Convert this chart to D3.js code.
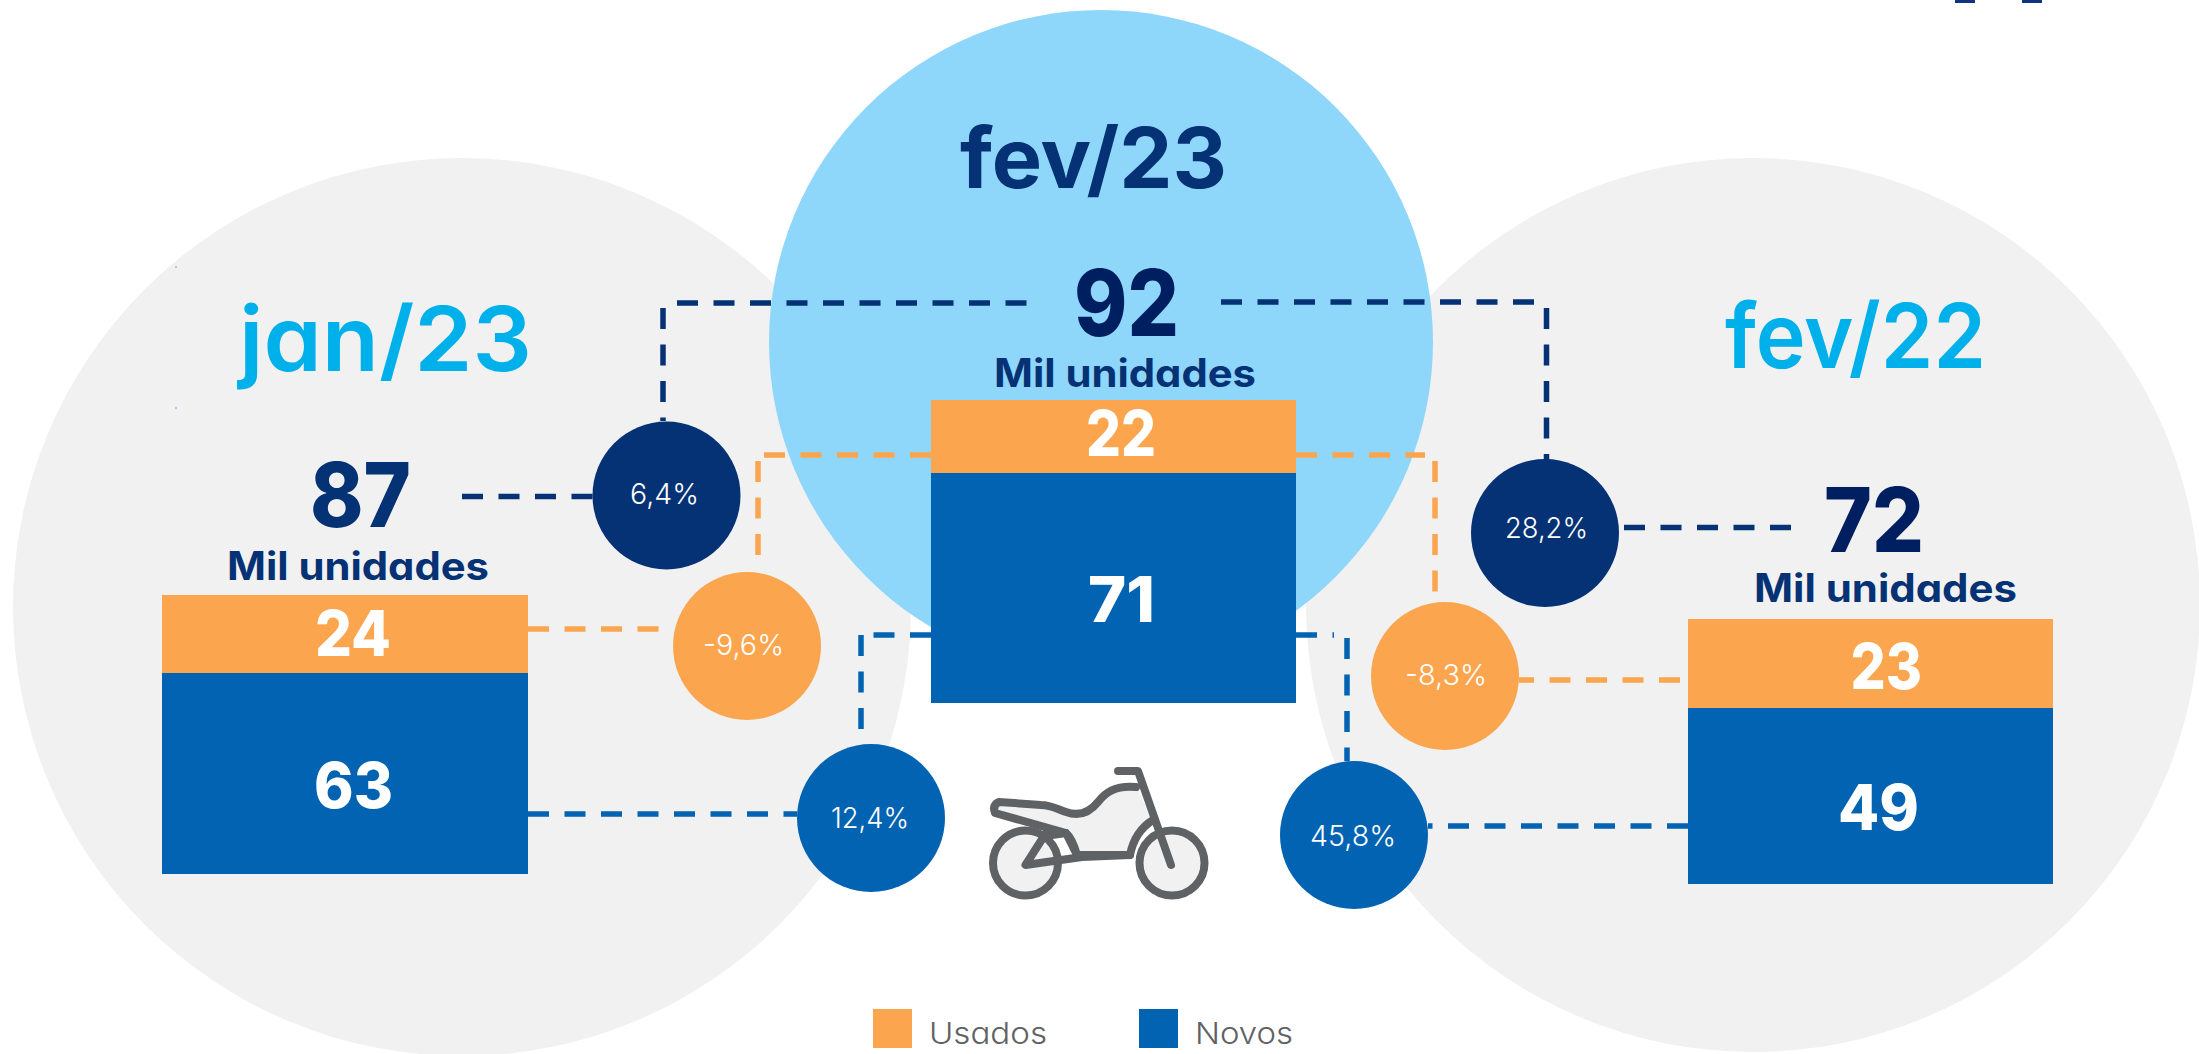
<!DOCTYPE html>
<html><head><meta charset="utf-8">
<style>html,body{margin:0;padding:0;background:#fff;overflow:hidden}
text{font-family:Inter,"Noto Sans",sans-serif;font-feature-settings:"cv11" 1}</style>
<script src="https://cdnjs.cloudflare.com/ajax/libs/d3/7.8.5/d3.min.js"></script>
</head><body><svg id="c" width="2199" height="1054"></svg>
<script>
// DATA
const periods = ["jan/23","fev/23","fev/22"];
const usados = [24,22,23];
const novos = [63,71,49];
const totals = [87,92,72];
const unitLabel = "Mil unidades";
const varTotal = ["6,4%","28,2%"];
const varUsados = ["-9,6%","-8,3%"];
const varNovos = ["12,4%","45,8%"];
const seriesNames = ["Usados","Novos"];

// STYLE / LAYOUT
const C = {grey:"#F1F1F1",sky:"#8FD6FB",cyan:"#00B0EA",navy:"#053175",dark:"#001F60",orange:"#FBA54E",blue:"#0263B3",ink:"#5F6264"};
const svg = d3.select("#c");
const backdrop = [[462,607,449,C.grey],[1753,605,447,C.grey],[1101,342,332,C.sky]];
const barBox = [
 {x0:162,x1:528,bottom:874,split:673,top:595},
 {x0:931,x1:1296,bottom:703,split:473,top:400},
 {x0:1688,x1:2053,bottom:884,split:708,top:619}];
const dashes = [
 [C.navy,462,496.5,593,496.5],[C.navy,1026.5,303,673,303],[C.navy,663,308,663,421],
 [C.navy,1221,302,1538,302],[C.navy,1546.5,308,1546.5,460],[C.navy,1791,527.5,1622,527.5],
 [C.orange,528,629,673,629],[C.orange,931,455,758,455],[C.orange,758,461,758,565],
 [C.orange,1296,455,1425,455],[C.orange,1435,461,1435,592],[C.orange,1680,680,1519,680],
 [C.blue,528,814,797,814],[C.blue,931,635,866,635],[C.blue,861,635,861,744],
 [C.blue,1296,635,1334,635],[C.blue,1347,638,1347,761],[C.blue,1688,826,1428,826]];
const badgeSpot = {total:[[666.5,495.5],[1545,533]],usados:[[747,646],[1445,676]],novos:[[871,818],[1354,835]]};

svg.selectAll("circle.bg").data(backdrop).join("circle").attr("class","bg")
  .attr("cx",d=>d[0]).attr("cy",d=>d[1]).attr("r",d=>d[2]).attr("fill",d=>d[3]);

svg.selectAll("line.d").data(dashes).join("line").attr("class","d")
  .attr("x1",d=>d[1]).attr("y1",d=>d[2]).attr("x2",d=>d[3]).attr("y2",d=>d[4])
  .attr("stroke",d=>d[0]).attr("stroke-width",5.5).attr("stroke-dasharray","21 15.5");

// bars: one y scale per panel (the source panels are not on a shared scale)
periods.forEach((p,i)=>{
  const b = barBox[i];
  const y = d3.scaleLinear().domain([0,novos[i],novos[i]+usados[i]]).range([b.bottom,b.split,b.top]);
  const x = d3.scaleLinear().domain([0,1]).range([b.x0,b.x1]);
  const segs = [[0,novos[i],C.blue],[novos[i],novos[i]+usados[i],C.orange]];
  svg.append("g").selectAll("rect").data(segs).join("rect")
    .attr("x",x(0)).attr("width",x(1)-x(0))
    .attr("y",d=>y(d[1])).attr("height",d=>y(d[0])-y(d[1])).attr("fill",d=>d[2]);
});

// badges
const badges = [
 ...varTotal.map((t,i)=>({t,c:C.navy,p:badgeSpot.total[i]})),
 ...varUsados.map((t,i)=>({t,c:C.orange,p:badgeSpot.usados[i]})),
 ...varNovos.map((t,i)=>({t,c:C.blue,p:badgeSpot.novos[i]}))];
svg.selectAll("circle.b").data(badges).join("circle").attr("class","b")
  .attr("cx",d=>d.p[0]).attr("cy",d=>d.p[1]).attr("r",74).attr("fill",d=>d.c);

function label(s,l,r,base,size,w,col){
  svg.append("text").text(s).attr("x",l).attr("y",base).attr("font-size",size).attr("font-weight",w)
    .attr("fill",col).attr("textLength",r-l).attr("lengthAdjust","spacingAndGlyphs");
}
label(periods[0],239,532,371,90,600,C.cyan);
label(periods[1],960,1227,188,84,700,C.navy);
label(periods[2],1725,1986,368,90,600,C.cyan);
label(String(totals[0]),310,411,527,90,800,C.navy);
label(String(totals[1]),1074,1179,336,92,800,C.dark);
label(String(totals[2]),1824,1924,551.5,90,800,C.dark);
label(unitLabel,227,489,579.5,39,650,C.navy);
label(unitLabel,994,1256,387,39,650,C.navy);
label(unitLabel,1754,2017,602,39,650,C.navy);
label(String(usados[0]),315,391,656,63,800,"#fff");
label(String(novos[0]),314,393,808,63,800,"#fff");
label(String(usados[1]),1086,1156,456,63,800,"#fff");
label(String(novos[1]),1088,1155,622,63,800,"#fff");
label(String(usados[2]),1850.5,1922,688.5,63,800,"#fff");
label(String(novos[2]),1838,1919,830,63,800,"#fff");
label(varTotal[0],630,699,504,28,300,"#fff");
label(varTotal[1],1505,1588,538,28,300,"#fff");
label(varUsados[0],703,784,654.5,28,300,"#fff");
label(varUsados[1],1405,1487,685,28,300,"#fff");
label(varNovos[0],831,909,828,28,300,"#fff");
label(varNovos[1],1310,1396,846,28,300,"#fff");

// legend
svg.append("rect").attr("x",873).attr("y",1009).attr("width",39).attr("height",39).attr("fill",C.orange);
svg.append("rect").attr("x",1139).attr("y",1009).attr("width",39).attr("height",39).attr("fill",C.blue);
label(seriesNames[0],929,1047,1044,30,300,C.ink);
label(seriesNames[1],1195,1293,1044,30,300,C.ink);

// motorcycle icon
const g = svg.append("g").attr("fill","none").attr("stroke",C.ink).attr("stroke-width",8).attr("stroke-linecap","round").attr("stroke-linejoin","round");
g.append("path").attr("fill",C.grey).attr("d",
 "M1136,787 C1115,785 1105,793 1098,802 C1090,812 1080,817 1066,812 C1055,808 1050,805 1041,805 L999,802 Q992,805 995,813 L1066,833 C1072,838 1075,848 1077,855 L1130,855 C1133,840 1140,828 1153,820");
g.selectAll("circle").data([1025.5,1172]).join("circle").attr("cx",d=>d).attr("cy",863).attr("r",32.5).attr("fill",C.grey);
g.append("path").attr("d","M1118,771 L1138,771 L1171,865");
g.append("path").attr("d","M1046,833 L1025.5,865 L1082,857 L1130,855");
g.append("path").attr("d","M1052,835 L1066,833 L1077,855");

// stray marks at the edges of the source image
[[1955,0,20,3],[2022,0,20,3]].forEach(r=>svg.append("rect").attr("x",r[0]).attr("y",r[1]).attr("width",r[2]).attr("height",r[3]).attr("fill","#12337f"));
[[175,266],[175,407]].forEach(r=>svg.append("rect").attr("x",r[0]).attr("y",r[1]).attr("width",2).attr("height",2).attr("fill",C.sky));
</script></body></html>
